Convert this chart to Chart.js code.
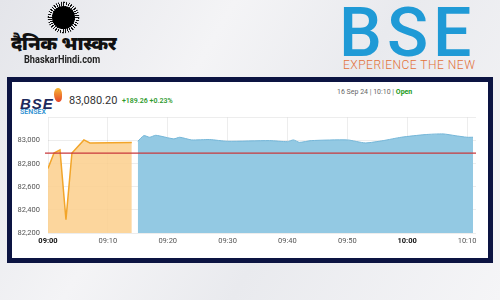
<!DOCTYPE html>
<html>
<head>
<meta charset="utf-8">
<script src="https://cdn.jsdelivr.net/npm/chart.js@4.4.1/dist/chart.umd.min.js"></script>
<style>
    body { margin: 0; width: 500px; height: 300px; overflow: hidden; position: relative;
        background: linear-gradient(120deg, #e4e5ea 0%, #f4f4f6 35%, #e9eaee 60%, #f5f5f7 100%);
        font-family: "Open Sans", "DejaVu Sans", sans-serif; }
    .sun { position: absolute; left: 47px; top: 1px; width: 33px; height: 33px; border-radius: 50%;
        background: repeating-conic-gradient(#111 0deg 4deg, transparent 4deg 10deg);
        -webkit-mask: radial-gradient(circle, #000 65%, transparent 70%); }
    .sun::after { content: ''; position: absolute; left: 5px; top: 5px; width: 23px; height: 23px; border-radius: 50%; background: #000; }
    .hindi { position: absolute; left: 11px; top: 29px; font: 900 19.5px "Noto Sans", "DejaVu Sans", sans-serif; color: #111; letter-spacing: -0.5px; }
    .site { position: absolute; left: 24px; top: 54px; font: bold 10px "Roboto", sans-serif; color: #222; transform: scaleX(0.92); transform-origin: left; }
    .bse { position: absolute; left: 339px; top: -7px; font: 500 68px "Roboto", sans-serif; color: #1f9ad6; letter-spacing: 5px; }
    .tag { position: absolute; left: 343px; top: 58px; font: 300 12px "Roboto", sans-serif; color: #e2713a; letter-spacing: 0.5px; }
    .frame { position: absolute; left: 7px; top: 77px; width: 476px; height: 176px; border: 5px solid #0c1442; background: #fff; }
    .hdr-logo { position: absolute; left: 20px; top: 95px; font: italic 900 15px "Liberation Sans", sans-serif; color: #1d2a5c; letter-spacing: 1px; }
    .flame { position: absolute; left: 54px; top: 88px; width: 8px; height: 14px; border-radius: 50% 50% 40% 60%;
        background: linear-gradient(#f7b733, #e5452b); }
    .sensex { position: absolute; left: 20px; top: 108px; font: 600 7px "Roboto", sans-serif; color: #2c8fd0; }
    .price { position: absolute; left: 69px; top: 94px; font: 11px "Roboto", sans-serif; color: #333; }
    .chg { position: absolute; left: 122px; top: 97px; font: 600 7px "Roboto", sans-serif; color: #2b9a2b; }
    .stamp { position: absolute; left: 337px; top: 88px; font: 7px "Roboto", sans-serif; color: #666; }
    .stamp b { color: #1a9a1a; }
    #wrap { position: absolute; left: 12px; top: 105px; width: 470px; height: 146px; }
</style>
</head>
<body>
<div class="sun"></div>
<div class="hindi">दैनिक भास्कर</div>
<div class="site">BhaskarHindi.com</div>
<div class="bse">BSE</div>
<div class="tag">EXPERIENCE THE NEW</div>
<div class="frame"></div>
<div class="flame"></div>
<div class="hdr-logo">BSE</div>
<div class="sensex">SENSEX</div>
<div class="price">83,080.20</div>
<div class="chg">+189.26 +0.23%</div>
<div class="stamp">16 Sep 24 | 10:10 | <b>Open</b></div>
<div id="wrap"><canvas id="sensexChart"></canvas></div>

<script>
// Dados (pré-abertura e sessão normal)
const preOpenTimes = ['09:00', '09:01', '09:02', '09:03', '09:04', '09:06', '09:07', '09:14'];
const preOpenValues = [82759, 82893, 82919, 82316, 82893, 83006, 82980, 82983];

const sessionTimes = ['09:15', '09:16', '09:17', '09:18', '09:21', '09:22', '09:24', '09:27', '09:30', '09:37',
    '09:40', '09:41', '09:42', '09:44', '09:50', '09:53', '09:56', '09:59', '10:03', '10:06', '10:08', '10:10', '10:11'];
const sessionValues = [82994, 83043, 83029, 83046, 83015, 83029, 83006, 83009, 82994, 83000,
    82991, 83006, 82985, 83000, 83006, 82980, 83000, 83029, 83052, 83058, 83043, 83029, 83029];

const prevClose = 82890.94;
const yTicks = [82200, 82400, 82600, 82800, 83000, 83200];
const xTickLabels = ['09:00', '09:10', '09:20', '09:30', '09:40', '09:50', '10:00', '10:10'];

// Converter HH:MM para minutos desde 09:00
function toMinutes(t) {
    const p = t.split(':');
    return (parseInt(p[0]) - 9) * 60 + parseInt(p[1]);
}

function toLabel(m) {
    const h = 9 + Math.floor(m / 60);
    const mm = m % 60;
    return (h < 10 ? '0' + h : h) + ':' + (mm < 10 ? '0' + mm : mm);
}

function points(times, values) {
    return times.map((t, i) => ({ x: toMinutes(t), y: values[i] }));
}

// Linha de fechamento anterior
const prevClosePlugin = {
    id: 'prevClose',
    afterDatasetsDraw(chart) {
        const ctx = chart.ctx;
        const area = chart.chartArea;
        const y = chart.scales.y.getPixelForValue(prevClose);
        ctx.save();
        ctx.strokeStyle = '#c8383c';
        ctx.lineWidth = 1.2;
        ctx.beginPath();
        ctx.moveTo(area.left - 3, y);
        ctx.lineTo(area.right, y);
        ctx.stroke();
        ctx.restore();
    }
};

new Chart(document.getElementById('sensexChart'), {
    type: 'line',
    data: {
        datasets: [{
            data: points(preOpenTimes, preOpenValues),
            borderColor: '#f2a52a',
            backgroundColor: 'rgba(252, 207, 140, 0.85)',
            borderWidth: 1.5,
            fill: 'start',
            pointRadius: 0,
            tension: 0
        }, {
            data: points(sessionTimes, sessionValues),
            borderColor: '#74b6d8',
            backgroundColor: '#93c9e3',
            borderWidth: 1,
            fill: 'start',
            pointRadius: 0,
            tension: 0.2
        }]
    },
    options: {
        responsive: true,
        maintainAspectRatio: false,
        animation: false,
        layout: { padding: { top: 2, right: 6, left: 0, bottom: 0 } },
        plugins: {
            legend: { display: false },
            tooltip: { enabled: false }
        },
        scales: {
            x: {
                type: 'linear',
                min: 0,
                max: 71.5,
                afterFit: scale => { scale.height = 18; },
                afterBuildTicks: scale => {
                    scale.ticks = xTickLabels.map(t => ({ value: toMinutes(t) }));
                },
                grid: { color: 'rgba(0,0,0,0.07)', drawTicks: false },
                border: { display: false },
                ticks: {
                    padding: 4,
                    maxRotation: 0,
                    color: ctx => (ctx.tick && ctx.tick.value % 60 === 0) ? '#111' : '#555',
                    font: ctx => ({
                        family: 'Roboto',
                        size: 7.5,
                        weight: (ctx.tick && ctx.tick.value % 60 === 0) ? 'bold' : 'normal'
                    }),
                    callback: v => toLabel(v)
                }
            },
            y: {
                min: yTicks[0],
                max: yTicks[yTicks.length - 1],
                afterFit: scale => { scale.width = 36; },
                afterBuildTicks: scale => {
                    scale.ticks = yTicks.map(v => ({ value: v }));
                },
                grid: { color: 'rgba(0,0,0,0.07)', drawTicks: false },
                border: { display: false },
                ticks: {
                    padding: 8,
                    color: '#555',
                    font: { family: 'Roboto', size: 7.5 },
                    callback: v => v === yTicks[yTicks.length - 1] ? '' : v.toLocaleString('en-US')
                }
            }
        }
    },
    plugins: [prevClosePlugin]
});
</script>
</body>
</html>
